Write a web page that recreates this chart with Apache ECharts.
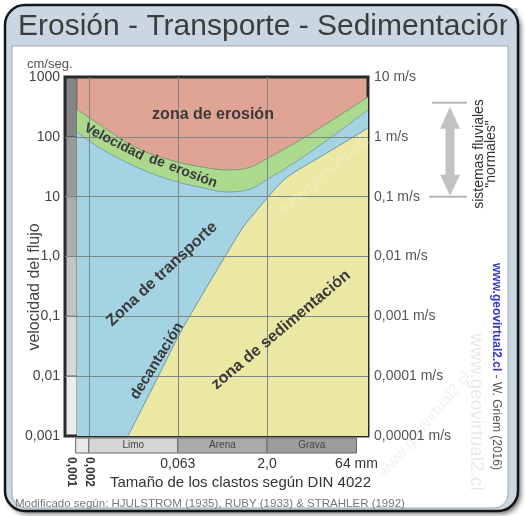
<!DOCTYPE html>
<html><head><meta charset="utf-8">
<script src="https://cdn.jsdelivr.net/npm/echarts@6/dist/echarts.min.js"></script>
<style>html,body{margin:0;padding:0;background:#fff}#c{width:525px;height:516px}</style>
</head><body><div id="c"></div>
<script>
// ---------- data ----------
const sizeTickValues = [0.001, 0.002, 0.063, 2.0, 64];            // mm
const sizeTickLabels = ['0,001', '0,002', '0,063', '2,0', '64 mm'];
const velTickValues = [0.001, 0.01, 0.1, 1, 10, 100, 1000];       // cm/s
const velTickLabelsLeft = ['0,001', '0,01', '0,1', '1,0', '10', '100', '1000'];
const velTickLabelsRight = ['0,00001 m/s', '0,0001 m/s', '0,001 m/s', '0,01 m/s', '0,1 m/s', '1 m/s', '10 m/s'];

const sizeRange = [0.000794, 100];   // mm  (axis extent)
const velRange = [0.001, 1000];      // cm/s

// erosion band (upper and lower limit of "velocidad de erosión")
const erosionSizes = [0.00126, 0.0035, 0.013, 0.047, 0.17, 0.42, 0.92, 2.2, 8.1, 30, 100];
const erosionUpper = [290, 146, 65, 41, 31, 28, 30, 46, 95, 214, 464];
const erosionLower = [120, 60, 31, 19, 14, 12, 12.9, 20.5, 46, 116, 281];
// sedimentation (settling) velocity curve
const sedimentSizes = [0.0091, 0.024, 0.069, 0.17, 0.36, 0.79, 1.36, 2.0, 4.3, 15.6, 56, 100];
const sedimentVel = [0.001, 0.0066, 0.053, 0.25, 0.87, 3.1, 6.0, 9.5, 21, 46, 99, 141];

// grain-size classes bar
const classNames = ['', 'Limo', 'Arena', 'Grava'];
const classBounds = [0.0012, 0.002, 0.063, 2.0, 64];
const classColors = ['#e9e9e9', '#d5d5d5', '#ababab', '#9d9d9d'];

// left grey strip (one shade per decade)
const stripEdge = 0.00126;
const decadeBounds = [1000, 100, 10, 1, 0.1, 0.01, 0.001];
const stripColors = ['#858585', '#9a9a9a', '#adadad', '#c3c3c3', '#d8d8d8', '#ececec'];

// "sistemas fluviales normales" range (cm/s)
const normalRiverRange = [10, 370];

// ---------- build ----------
const L = Math.log10;
const xMin = L(sizeRange[0]), xMax = L(sizeRange[1]);
const yMin = L(velRange[0]), yMax = L(velRange[1]);
function lookup(vals, labels) {
  return function (v) {
    for (let i = 0; i < vals.length; i++) if (Math.abs(L(vals[i]) - v) < 1e-6) return labels[i];
    return '';
  };
}
const FONT = 'Liberation Sans, Arial, sans-serif';

const chart = echarts.init(document.getElementById('c'), null, { renderer: 'canvas' });

const stripAreas = [];
for (let i = 0; i < stripColors.length; i++) {
  stripAreas.push([
    { xAxis: xMin, yAxis: L(decadeBounds[i]), itemStyle: { color: stripColors[i] } },
    { xAxis: L(stripEdge), yAxis: L(decadeBounds[i + 1]) }
  ]);
}
const classAreas = [];
for (let i = 0; i < classNames.length; i++) {
  classAreas.push([
    { name: classNames[i], xAxis: L(classBounds[i]), yAxis: 0, itemStyle: { color: classColors[i] } },
    { xAxis: L(classBounds[i + 1]), yAxis: 1 }
  ]);
}
const gridLines = [];
[0.002, 0.063, 2.0].forEach(v => gridLines.push({ xAxis: L(v) }));
velTickValues.slice(1, -1).forEach(v => gridLines.push({ yAxis: L(v) }));

function curve(sizes, vels) { return sizes.map((s, i) => [L(s), L(vels[i])]); }

const option = {
  animation: false,
  grid: [
    { left: 65, right: 157, top: 77, height: 359, show: true, backgroundColor: '#dfa494', borderWidth: 0 },
    { left: 65, right: 157, top: 438, height: 15, show: false }
  ],
  xAxis: [
    { gridIndex: 0, type: 'value', min: xMin, max: xMax, show: false },
    { gridIndex: 1, type: 'value', min: xMin, max: xMax, position: 'bottom',
      axisLine: { show: false }, axisTick: { show: false }, splitLine: { show: false },
      axisLabel: { customValues: sizeTickValues.slice(2).map(L), formatter: lookup(sizeTickValues, sizeTickLabels),
        fontSize: 14, color: '#333', fontFamily: FONT, margin: 4, showMinLabel: true, showMaxLabel: true } },
    { gridIndex: 1, type: 'value', min: xMin, max: xMax, position: 'bottom',
      axisLine: { show: false }, axisTick: { show: false }, splitLine: { show: false },
      axisLabel: { customValues: sizeTickValues.slice(0, 2).map(L), formatter: lookup(sizeTickValues, sizeTickLabels),
        rotate: -90, fontSize: 12, color: '#333', fontWeight: 'bold', fontFamily: FONT, margin: 4 } }
  ],
  yAxis: [
    { gridIndex: 0, type: 'value', min: yMin, max: yMax, interval: 1, position: 'left',
      axisLine: { show: false }, axisTick: { show: true, length: 4, lineStyle: { color: '#333' } }, splitLine: { show: false },
      axisLabel: { formatter: lookup(velTickValues, velTickLabelsLeft), fontSize: 14, color: '#444', fontFamily: FONT, margin: 5 } },
    { gridIndex: 0, type: 'value', min: yMin, max: yMax, interval: 1, position: 'right',
      axisLine: { show: false }, axisTick: { show: false }, splitLine: { show: false },
      axisLabel: { formatter: lookup(velTickValues, velTickLabelsRight), fontSize: 14, color: '#555', fontFamily: FONT, margin: 6 } },
    { gridIndex: 1, type: 'value', min: 0, max: 1, show: false }
  ],
  series: [
    { name: 'erosion-top', type: 'line', xAxisIndex: 0, yAxisIndex: 0, z: 1, smooth: 0.4,
      symbol: 'none', data: curve(erosionSizes, erosionUpper),
      lineStyle: { color: '#7d9a78', width: 1 }, areaStyle: { color: '#abd98e', opacity: 1, origin: 'start' } },
    { name: 'erosion-bottom', type: 'line', xAxisIndex: 0, yAxisIndex: 0, z: 2, smooth: 0.4,
      symbol: 'none', data: curve(erosionSizes, erosionLower),
      lineStyle: { color: '#7ea0a8', width: 1 }, areaStyle: { color: '#a4d4e4', opacity: 1, origin: 'start' } },
    { name: 'sedimentation', type: 'line', xAxisIndex: 0, yAxisIndex: 0, z: 3, smooth: 0.3,
      symbol: 'none', data: curve(sedimentSizes, sedimentVel),
      lineStyle: { color: '#6f93a6', width: 1 }, areaStyle: { color: '#ebe8a3', opacity: 1, origin: 'start' } },
    { name: 'overlay', type: 'line', xAxisIndex: 0, yAxisIndex: 0, z: 4, data: [], symbol: 'none',
      markLine: { silent: true, symbol: ['none', 'none'], label: { show: false },
        lineStyle: { color: '#7d8787', width: 1, type: 'solid' }, data: gridLines },
      markArea: { silent: true, label: { show: false },
        itemStyle: { borderColor: '#555', borderWidth: 0.8 },
        data: stripAreas.concat([[
          { xAxis: xMin, yAxis: yMax, itemStyle: { color: 'rgba(0,0,0,0)', borderColor: '#2a2a2a', borderWidth: 3 } },
          { xAxis: xMax, yAxis: yMin }
        ]]) } },
    { name: 'classes', type: 'line', xAxisIndex: 1, yAxisIndex: 2, data: [], symbol: 'none',
      markArea: { silent: true,
        itemStyle: { borderColor: '#666', borderWidth: 1 },
        label: { show: true, position: 'inside', color: '#444', fontSize: 10, fontFamily: FONT },
        data: classAreas } }
  ]
};
chart.setOption(option);

// decorations (text, frame, arrow)
const yTop = chart.convertToPixel({ yAxisIndex: 0 }, L(normalRiverRange[1]));
const yBot = chart.convertToPixel({ yAxisIndex: 0 }, L(normalRiverRange[0]));
const ax = 450;
const deg = Math.PI / 180;
const txt = (id, text, x, y, size, opts) => Object.assign({
  type: 'text', id, x, y, z: 50,
  style: Object.assign({ text, fontSize: size, fontFamily: FONT, fill: '#3a3a3a', align: 'center', verticalAlign: 'middle' }, (opts && opts.style) || {})
}, opts && opts.rotation !== undefined ? { rotation: opts.rotation } : {});

const graphic = [
  { type: 'rect', id: 'outer', z: -10, shape: { x: 5, y: 5, width: 513, height: 506, r: 20 },
    style: { fill: '#cad7e3', stroke: null, shadowBlur: 5, shadowOffsetX: 3, shadowOffsetY: 3, shadowColor: 'rgba(0,0,0,0.55)' } },
  { type: 'rect', id: 'inner', z: -9, shape: { x: 12, y: 46, width: 496, height: 462, r: [0, 0, 14, 14] },
    style: { fill: '#ffffff', stroke: '#9aa8b5', lineWidth: 1 } },
  txt('title', 'Erosión - Transporte - Sedimentación', 18, 27, 30, { style: { align: 'left', fill: '#3c3c3c' } }),
  { type: 'rect', id: 'band', z: 51, shape: { x: 507, y: 8, width: 11, height: 37 }, style: { fill: '#cad7e3' } },
  { type: 'rect', id: 'border', z: 52, shape: { x: 5, y: 5, width: 513, height: 506, r: 20 },
    style: { fill: null, stroke: '#151515', lineWidth: 2.5 } },
  // watermarks
  txt('wm1', 'www.geovirtual2.cl', 476, 412, 19, { rotation: -90 * deg, style: { fill: 'rgba(0,0,0,0.09)' } }),
  txt('wm2', 'www.geovirtual2.cl', 425, 425, 16, { rotation: 50 * deg, style: { fill: 'rgba(0,0,0,0.06)' } }),
  txt('wm3', 'www.geovirtual2.cl', 330, 170, 16, { rotation: 40 * deg, style: { fill: 'rgba(255,255,255,0.25)' } }),
  // axis texts
  txt('cmseg', 'cm/seg.', 27, 64, 13, { style: { align: 'left', fill: '#555' } }),
  txt('vname', 'velocidad del flujo', 35, 287, 16, { rotation: 90 * deg, style: { fill: '#444' } }),
  txt('xname', 'Tamaño de los clastos según DIN 4022', 110, 483, 15, { style: { align: 'left', fill: '#333' } }),
  txt('source', 'Modificado según: HJULSTROM (1935), RUBY (1933) & STRAHLER (1992)', 15, 504, 11.5, { style: { align: 'left', fill: '#777' } }),
  {
    type: 'text', id: 'credit', x: 496, y: 263, z: 50, rotation: -90 * deg,
    style: { text: '{a|www.geovirtual2.cl}{b| - W. Griem (2016)}', align: 'left', verticalAlign: 'middle',
      rich: { a: { fontSize: 12, fontWeight: 'bold', fontFamily: FONT, fill: '#3636c8' }, b: { fontSize: 12, fontFamily: FONT, fill: '#555' } } }
  },
  txt('fluv', 'sistemas fluviales\n"normales"', 485, 154, 14, { rotation: 90 * deg, style: { fill: '#333', lineHeight: 12 } }),
  // plot annotations
  txt('zero', 'zona de erosión', 213, 115, 16, { style: { fontWeight: 'bold' } }),
  txt('vel1', 'Velocidad', 114, 142, 14, { rotation: -27 * deg, style: { fontWeight: 'bold' } }),
  txt('vel2', 'de', 157, 161, 14, { rotation: -19 * deg, style: { fontWeight: 'bold' } }),
  txt('vel3', 'erosión', 193, 175, 14, { rotation: -21 * deg, style: { fontWeight: 'bold' } }),
  txt('ztr', 'Zona de transporte', 162, 274, 16, { rotation: 43 * deg, style: { fontWeight: 'bold' } }),
  txt('dec', 'decantación', 157, 361, 15, { rotation: 58 * deg, style: { fontWeight: 'bold' } }),
  txt('zsed', 'zona de sedimentación', 281, 330, 16, { rotation: 40 * deg, style: { fontWeight: 'bold' } }),
  // arrow for normal river systems
  { type: 'line', id: 'lt', z: 50, shape: { x1: 432, y1: yTop, x2: 467, y2: yTop }, style: { stroke: '#b9b9b9', lineWidth: 2 } },
  { type: 'line', id: 'lb', z: 50, shape: { x1: 429, y1: yBot, x2: 467, y2: yBot }, style: { stroke: '#b9b9b9', lineWidth: 2 } },
  { type: 'polygon', id: 'arrow', z: 50, shape: { points: [
      [ax, yTop + 4], [ax + 10, yTop + 26], [ax + 4.5, yTop + 26], [ax + 4.5, yBot - 22], [ax + 10, yBot - 22],
      [ax, yBot - 1], [ax - 10, yBot - 22], [ax - 4.5, yBot - 22], [ax - 4.5, yTop + 26], [ax - 10, yTop + 26]
    ] }, style: { fill: '#c2c2c2' } }
];
chart.setOption({ graphic });
</script></body></html>
